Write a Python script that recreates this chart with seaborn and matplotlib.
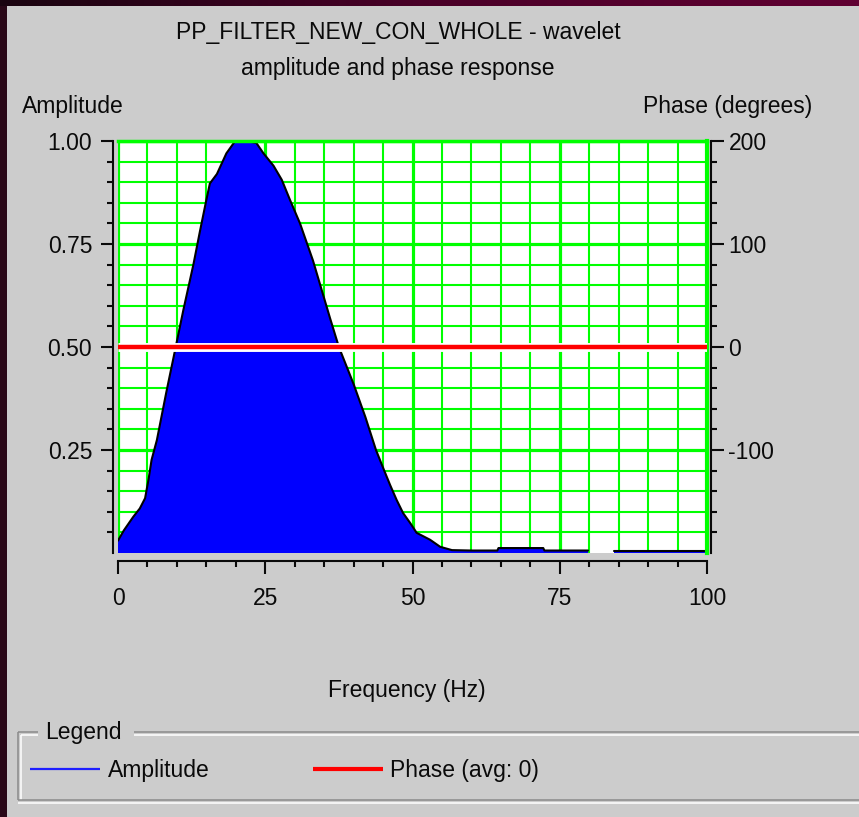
import numpy as np
import pandas as pd
import matplotlib
matplotlib.use("Agg")
import matplotlib.pyplot as plt
import seaborn as sns
from matplotlib import font_manager
from matplotlib.lines import Line2D
from matplotlib.patches import Rectangle
from matplotlib.colors import LinearSegmentedColormap
import matplotlib.patheffects as pe

# ---------------- data ----------------
freq_hz = [0, 1.0, 2.6, 3.7, 4.6, 5.2, 5.7, 6.6, 8.2, 9.8, 11.1, 12.8, 13.9, 15.0,
           15.6, 16.8, 18.4, 19.9, 21.8, 23.5, 24.7, 26.4, 27.8, 29.2, 30.9, 33.1,
           36.0, 37.5, 40.0, 42.0, 43.8, 45.2, 46.2, 47.3, 48.4, 49.6, 50.7, 53.0,
           54.7, 56.7, 60.0, 64.4, 64.6, 72.2, 72.4, 79.8, 80.0, 84.0, 84.2, 100.0]
amplitude = [0.03, 0.055, 0.088, 0.108, 0.133, 0.18, 0.226, 0.274, 0.39, 0.50, 0.59,
             0.70, 0.78, 0.857, 0.897, 0.92, 0.97, 1.0, 1.0, 0.995, 0.97, 0.94, 0.906,
             0.857, 0.80, 0.71, 0.57, 0.50, 0.41, 0.33, 0.25, 0.20, 0.165, 0.129,
             0.097, 0.073, 0.049, 0.032, 0.015, 0.007, 0.006, 0.006, 0.012, 0.012,
             0.006, 0.006, np.nan, np.nan, 0.006, 0.006]
phase_freq = [0, 100]
phase_deg = [0, 0]

freq_ticks = [0, 25, 50, 75, 100]
freq_tick_labels = ["0", "25", "50", "75", "100"]
amp_ticks = [0.25, 0.50, 0.75, 1.00]
amp_tick_labels = ["0.25", "0.50", "0.75", "1.00"]
phase_ticks = [-100, 0, 100, 200]
phase_tick_labels = ["-100", "0", "100", "200"]

title_lines = ["PP_FILTER_NEW_CON_WHOLE - wavelet", "amplitude and phase response"]
left_axis_title = "Amplitude"
right_axis_title = "Phase (degrees)"
x_axis_title = "Frequency (Hz)"
legend_title = "Legend"
legend_labels = ["Amplitude", "Phase (avg: 0)"]

# ---------------- style ----------------
sns.set_theme(style="white")
names = {f.name for f in font_manager.fontManager.ttflist}
if "Liberation Sans Narrow" in names:
    FAM = ["Liberation Sans Narrow", "DejaVu Sans"]
    FS = 19.5
else:
    FAM = ["Liberation Sans", "DejaVu Sans"]
    FS = 16.5
plt.rcParams["font.family"] = FAM
TXT = "#0a0a0a"
GREEN = "#00ff00"
PANEL = "#cccccc"

W, H = 859, 817
def fx(x):
    return x / W
def fy(y):
    return 1 - y / H

fig = plt.figure(figsize=(W / 100, H / 100), dpi=100, facecolor=PANEL)

# slide background strips
fig.add_artist(Rectangle((0, 0), fx(7), 1, transform=fig.transFigure,
                         facecolor="#2a0818", edgecolor="none", zorder=0))
gax = fig.add_axes([0, fy(6), 1, 6 / H])
grad = np.linspace(0, 1, 256)[None, :]
cm = LinearSegmentedColormap.from_list("m", ["#1a0510", "#4a0028", "#600032"])
gax.imshow(grad, aspect="auto", cmap=cm)
gax.set_axis_off()

# ---------------- main axes ----------------
ax = fig.add_axes([fx(118), fy(553), (707 - 118) / W, (553 - 141) / H])
ax.set_facecolor("white")

df = pd.DataFrame({"freq": freq_hz, "amp": amplitude})
df["segment"] = df["amp"].isna().cumsum()
ax.fill_between(df["freq"], 0, df["amp"], color="#0000ff", lw=0, zorder=1)
sns.lineplot(data=df.dropna(), x="freq", y="amp", units="segment", estimator=None,
             color="black", lw=1.5, ax=ax, zorder=2, legend=False)

ax.set_xlim(0, 100)
ax.set_ylim(0, 1)
ax.set_xticks(freq_ticks, freq_tick_labels)
ax.set_xticks(np.arange(5, 100, 5), minor=True)
ax.set_yticks(amp_ticks, amp_tick_labels)
ax.set_yticks(np.arange(0.05, 1.0, 0.05), minor=True)
ax.set_axisbelow(True)
ax.grid(which="major", color=GREEN, lw=2.3)
ax.grid(which="minor", color=GREEN, lw=1.5)
ax.set_xlabel("")
ax.set_ylabel("")

for s in ("left", "bottom"):
    ax.spines[s].set_color(TXT)
    ax.spines[s].set_linewidth(1.5)
ax.spines["left"].set_position(("outward", 3.6))
ax.spines["bottom"].set_position(("outward", 5.8))
ax.spines["top"].set_color(GREEN)
ax.spines["top"].set_linewidth(2.5)
ax.spines["right"].set_color(GREEN)
ax.spines["right"].set_linewidth(3)

ax.tick_params(axis="both", which="both", color=TXT, width=1.5, labelsize=FS,
               labelcolor=TXT, direction="out")
ax.tick_params(which="major", length=9)
ax.tick_params(which="minor", length=4.5)
ax.tick_params(axis="x", which="both", bottom=True, pad=9.5)
ax.tick_params(axis="y", which="both", left=True, pad=6)

# ---------------- phase axis ----------------
ax2 = ax.twinx()
sns.lineplot(x=phase_freq, y=phase_deg, ax=ax2, color="#ff0000", lw=3.2,
             solid_capstyle="butt",
             path_effects=[pe.Stroke(linewidth=6.4, foreground="white"), pe.Normal()])
ax2.set_ylim(-200, 200)
ax2.set_xlim(0, 100)
ax2.set_yticks(phase_ticks, phase_tick_labels)
ax2.set_yticks(np.arange(-180, 200, 20), minor=True)
ax2.grid(False)
ax2.set_xlabel("")
ax2.set_ylabel("")
for s in ("left", "top", "bottom"):
    ax2.spines[s].set_visible(False)
ax2.spines["right"].set_position(("outward", 2.9))
ax2.spines["right"].set_color(TXT)
ax2.spines["right"].set_linewidth(1.5)
ax2.tick_params(axis="y", which="both", right=True, left=False, color=TXT, width=1.5,
                labelsize=FS, labelcolor=TXT, direction="out", pad=3.5)
ax2.tick_params(which="major", length=9)
ax2.tick_params(which="minor", length=4.5)

# ---------------- texts ----------------
fig.text(fx(398), fy(33), title_lines[0], ha="center", va="center", fontsize=FS, color=TXT)
fig.text(fx(398), fy(69), title_lines[1], ha="center", va="center", fontsize=FS, color=TXT)
fig.text(fx(22), fy(106), left_axis_title, ha="left", va="center", fontsize=FS, color=TXT)
fig.text(fx(812), fy(106), right_axis_title, ha="right", va="center", fontsize=FS, color=TXT)
fig.text(fx(407), fy(691), x_axis_title, ha="center", va="center", fontsize=FS, color=TXT)

# ---------------- legend box ----------------
DARK = "#8a8a8a"
def hline(x0, x1, y, c, lw=1.1):
    fig.add_artist(Line2D([fx(x0), fx(x1)], [fy(y), fy(y)], transform=fig.transFigure,
                          color=c, lw=lw, solid_capstyle="butt"))
def vline(x, y0, y1, c, lw=1.1):
    fig.add_artist(Line2D([fx(x), fx(x)], [fy(y0), fy(y1)], transform=fig.transFigure,
                          color=c, lw=lw, solid_capstyle="butt"))

hline(18, 38, 732, DARK); hline(134, 862, 732, DARK)
hline(21, 38, 735, "white"); hline(134, 862, 735, "white")
vline(18, 732, 800, DARK); vline(21, 735, 800, "white")
hline(18, 862, 800, DARK); hline(18, 862, 803, "white")
fig.text(fx(45), fy(733), legend_title, ha="left", va="center", fontsize=FS, color=TXT)

fig.add_artist(Line2D([fx(30), fx(100)], [fy(769), fy(769)], transform=fig.transFigure,
                      color="#1e1eff", lw=1.6, solid_capstyle="butt"))
fig.text(fx(108), fy(770), legend_labels[0], ha="left", va="center", fontsize=FS, color=TXT)
fig.add_artist(Line2D([fx(313), fx(383)], [fy(769), fy(769)], transform=fig.transFigure,
                      color="#ff0000", lw=3.0, solid_capstyle="butt"))
fig.text(fx(390), fy(770), legend_labels[1], ha="left", va="center", fontsize=FS, color=TXT)

fig.savefig("out.png", dpi=100, facecolor=PANEL)
